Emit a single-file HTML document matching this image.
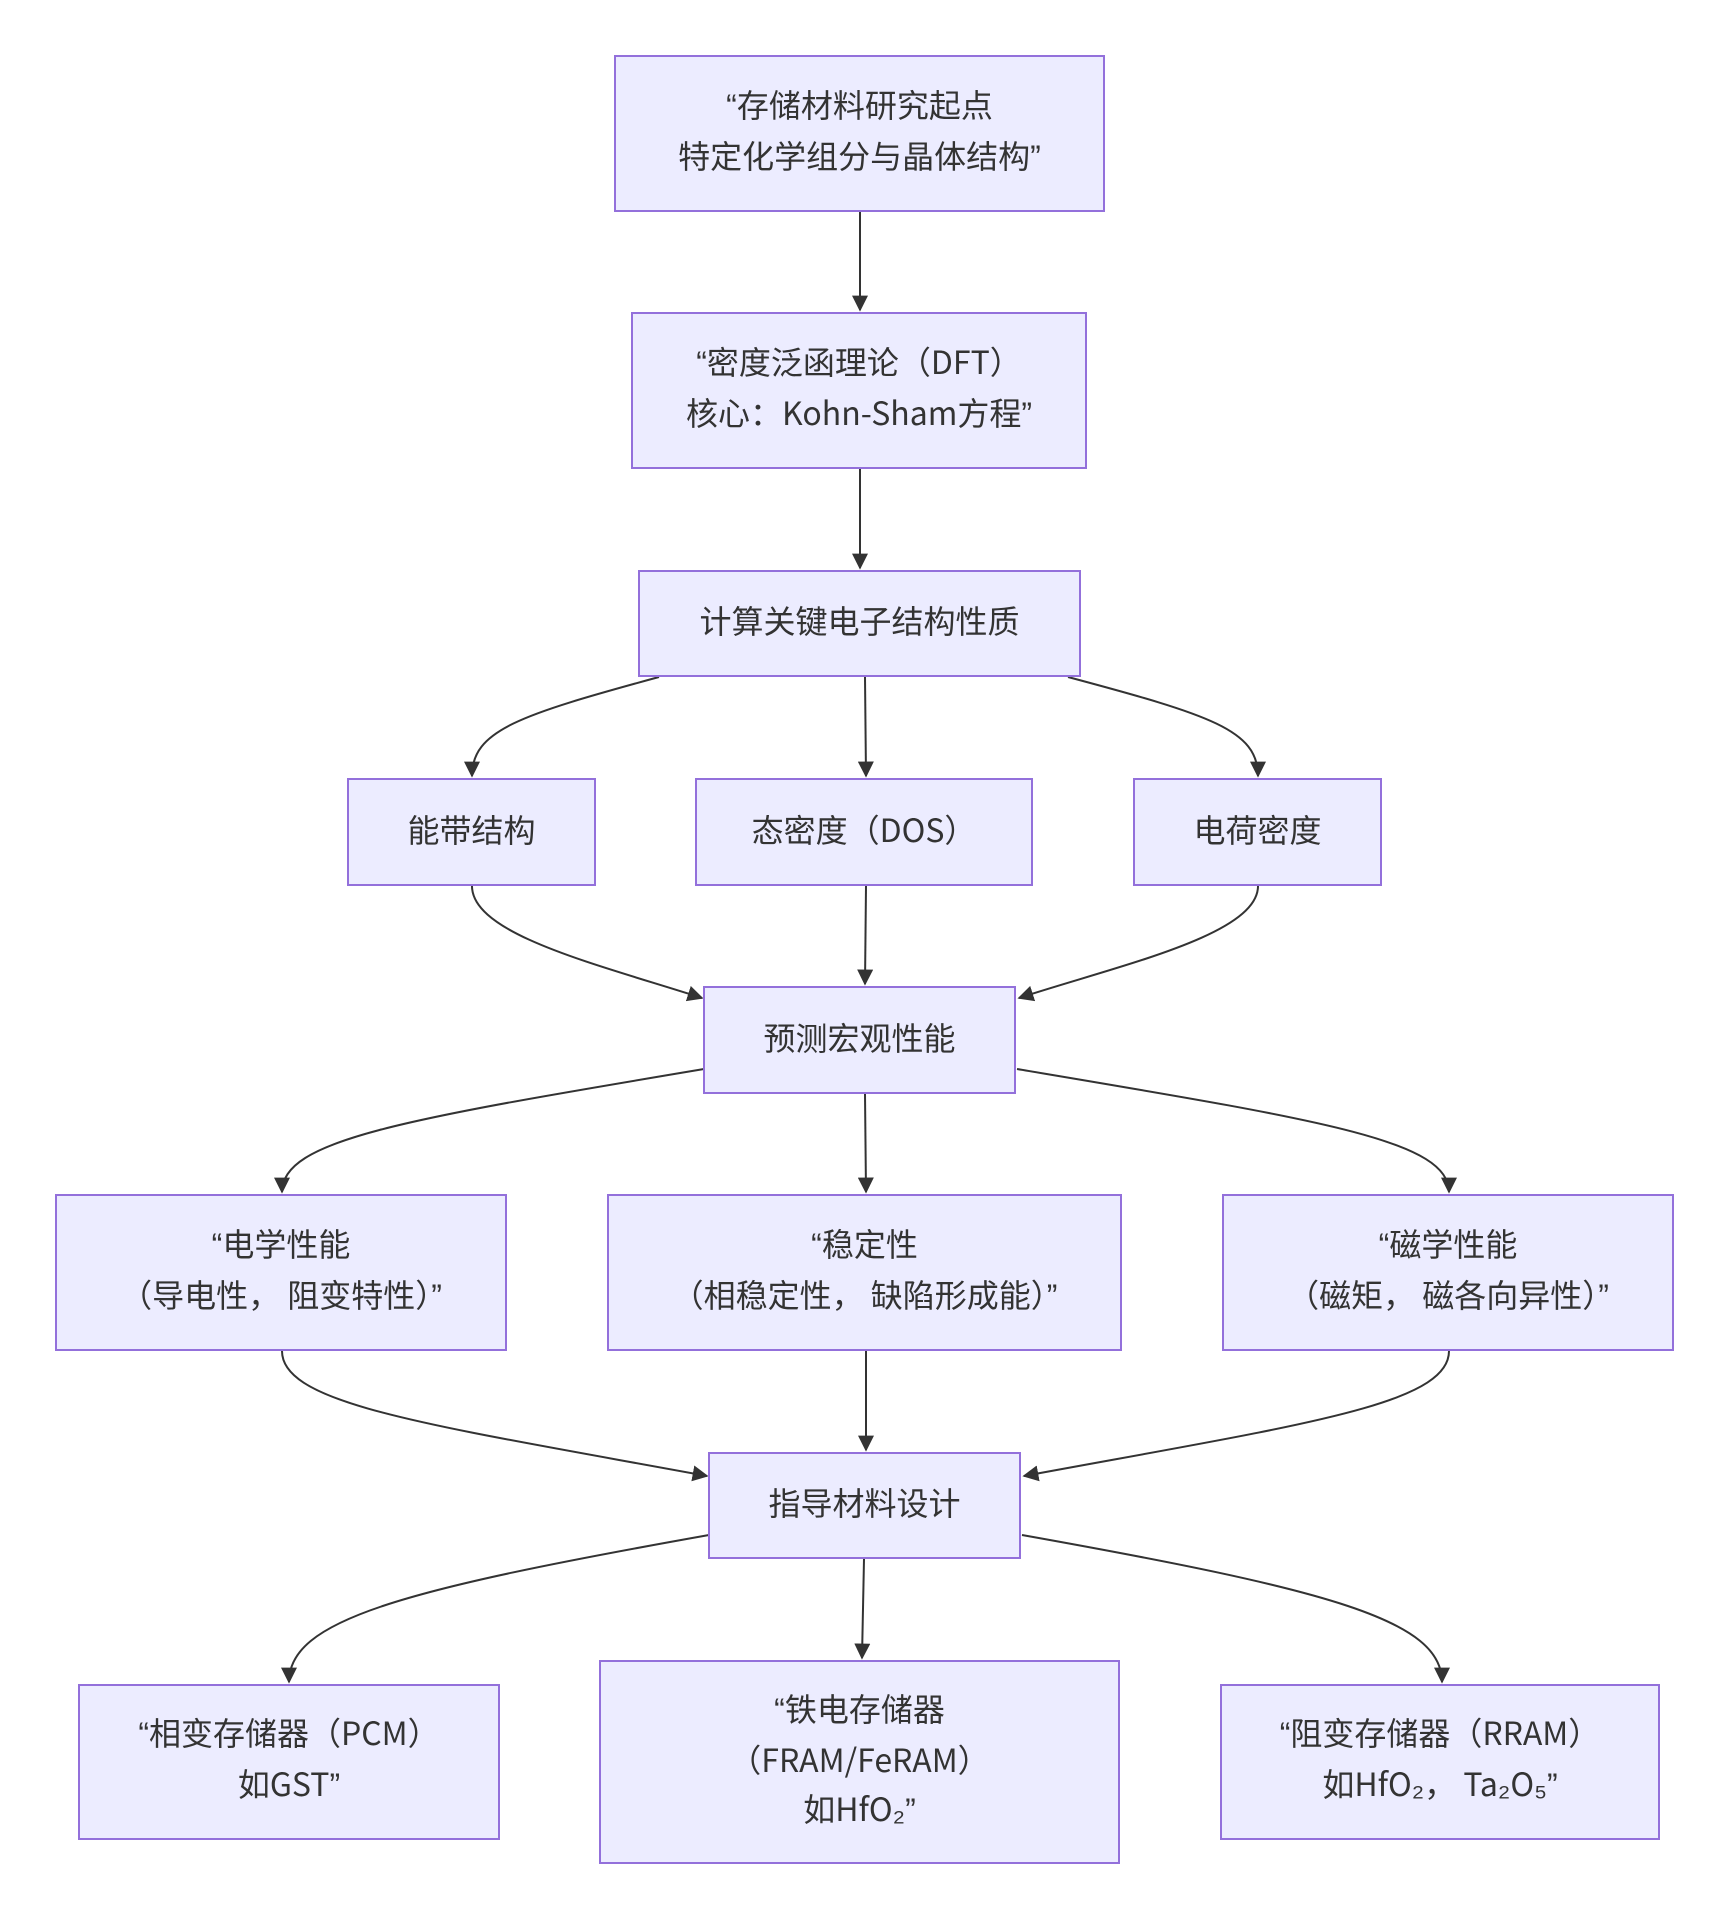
<!DOCTYPE html>
<html><head><meta charset="utf-8"><style>
body{margin:0;background:#fff;width:1727px;height:1916px;position:relative;overflow:hidden}
.n{position:absolute;box-sizing:border-box;background:#ececff;border:2px solid #9370db;display:flex;align-items:center;justify-content:center;text-align:center;color:#333;font-family:"Noto Sans CJK SC","Liberation Sans",sans-serif;font-size:32px;line-height:49px;padding-bottom:6px}
.q{font-family:"Liberation Sans",sans-serif}
svg{position:absolute;left:0;top:0}
</style></head><body>
<svg width="1727" height="1916">
<defs><marker id="a" viewBox="0 0 10 10" refX="9" refY="5" markerWidth="8" markerHeight="8" orient="auto"><path d="M0,0L10,5L0,10z" fill="#333"/></marker></defs>
<g fill="none" stroke="#333" stroke-width="2" marker-end="url(#a)">
<path d="M860,212L860,310"/>
<path d="M860,469L860,568"/>
<path d="M659,677C520,715 472,730 472,776"/>
<path d="M865,677L866,776"/>
<path d="M1068,677C1210,715 1258,730 1258,776"/>
<path d="M472,886C472,935 600,965 702,998"/>
<path d="M866,886L865,984"/>
<path d="M1258,886C1258,935 1120,965 1019,998"/>
<path d="M704,1069C400,1120 282,1140 282,1192"/>
<path d="M865,1094L866,1192"/>
<path d="M1017,1069C1320,1120 1449,1140 1449,1192"/>
<path d="M282,1351C282,1405 430,1425 707,1476"/>
<path d="M866,1351L866,1450"/>
<path d="M1449,1351C1449,1405 1300,1425 1024,1476"/>
<path d="M709,1535C400,1590 289,1620 289,1682"/>
<path d="M864,1559L862,1658"/>
<path d="M1022,1535C1330,1590 1442,1620 1442,1682"/>
</g></svg>
<div class="n" style="left:614px;top:55px;width:491px;height:157px"><span><span class="q">“</span>存储材料研究起点<br>特定化学组分与晶体结构<span class="q">”</span></span></div>
<div class="n" style="left:631px;top:312px;width:456px;height:157px"><span><span class="q">“</span>密度泛函理论（DFT）<br>核心：Kohn-Sham方程<span class="q">”</span></span></div>
<div class="n" style="left:638px;top:570px;width:443px;height:107px">计算关键电子结构性质</div>
<div class="n" style="left:347px;top:778px;width:249px;height:108px">能带结构</div>
<div class="n" style="left:695px;top:778px;width:338px;height:108px">态密度（DOS）</div>
<div class="n" style="left:1133px;top:778px;width:249px;height:108px">电荷密度</div>
<div class="n" style="left:703px;top:986px;width:313px;height:108px">预测宏观性能</div>
<div class="n" style="left:55px;top:1194px;width:452px;height:157px"><span><span class="q">“</span>电学性能<br>（导电性， 阻变特性）<span class="q">”</span></span></div>
<div class="n" style="left:607px;top:1194px;width:515px;height:157px"><span><span class="q">“</span>稳定性<br>（相稳定性， 缺陷形成能）<span class="q">”</span></span></div>
<div class="n" style="left:1222px;top:1194px;width:452px;height:157px"><span><span class="q">“</span>磁学性能<br>（磁矩， 磁各向异性）<span class="q">”</span></span></div>
<div class="n" style="left:708px;top:1452px;width:313px;height:107px">指导材料设计</div>
<div class="n" style="left:78px;top:1684px;width:422px;height:156px"><span><span class="q">“</span>相变存储器（PCM）<br>如GST<span class="q">”</span></span></div>
<div class="n" style="left:599px;top:1660px;width:521px;height:204px"><span><span class="q">“</span>铁电存储器<br>（FRAM/FeRAM）<br>如HfO₂<span class="q">”</span></span></div>
<div class="n" style="left:1220px;top:1684px;width:440px;height:156px"><span><span class="q">“</span>阻变存储器（RRAM）<br>如HfO₂， Ta₂O₅<span class="q">”</span></span></div>
</body></html>
